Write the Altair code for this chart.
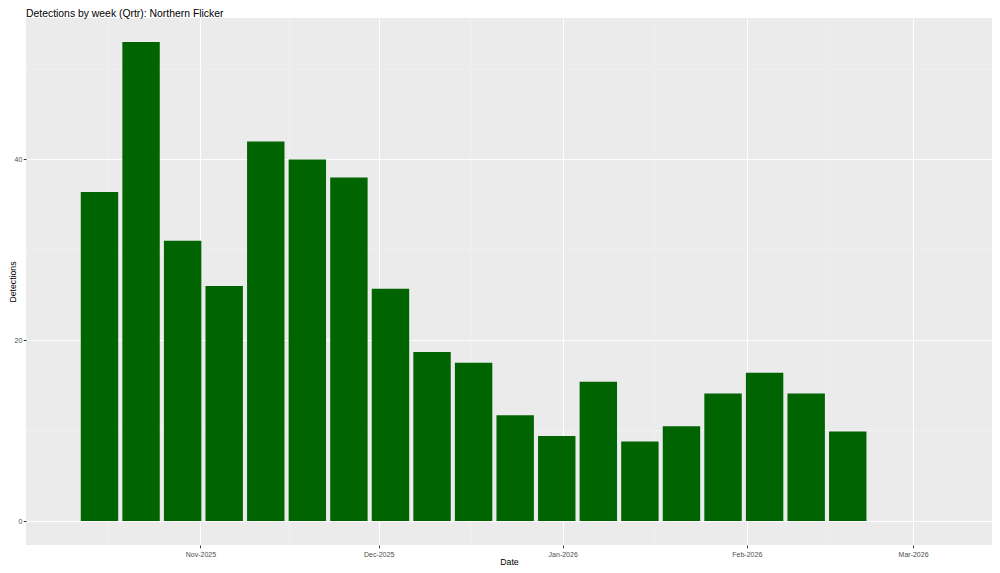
import altair as alt
import pandas as pd

# Week (centre date) of each bar
weeks = ["2025-10-15", "2025-10-22", "2025-10-29", "2025-11-05", "2025-11-12",
         "2025-11-19", "2025-11-26", "2025-12-03", "2025-12-10", "2025-12-17",
         "2025-12-24", "2025-12-31", "2026-01-07", "2026-01-14", "2026-01-21",
         "2026-01-28", "2026-02-04", "2026-02-11", "2026-02-18"]
detections = [36.4, 53, 31, 26, 42, 40, 38, 25.7, 18.7, 17.5,
              11.7, 9.4, 15.4, 8.8, 10.5, 14.1, 16.4, 14.1, 9.9]

month_breaks = ["2025-11-01", "2025-12-01", "2026-01-01", "2026-02-01", "2026-03-01"]
minor_x = ["2025-10-16T12:00:00Z", "2025-11-16T00:00:00Z", "2025-12-16T12:00:00Z",
           "2026-01-16T12:00:00Z", "2026-02-14T12:00:00Z"]
major_y = [0, 20, 40]
minor_y = [10, 30, 50]

FONT = "Liberation Sans"

bars_df = pd.DataFrame({"week": weeks, "Detections": detections})
mx_df = pd.DataFrame({"d": minor_x})
my_df = pd.DataFrame({"v": minor_y})

x_scale = alt.Scale(type="utc",
                    domain=[alt.DateTime(year=2025, month=10, date=2, hours=15, utc=True),
                            alt.DateTime(year=2026, month=3, date=14, hours=7, utc=True)])
y_scale = alt.Scale(domain=[-2.65, 55.65], nice=False, zero=False)

def dt(s):
    y, m, d = s.split("-")
    return alt.DateTime(year=int(y), month=int(m), date=int(d), utc=True)

x_axis = alt.Axis(title="Date", values=[dt(s) for s in month_breaks],
                  labelExpr="utcFormat(datum.value, '%b-%Y')",
                  labelFontSize=7, labelColor="#4D4D4D", labelFont=FONT,
                  titleFont=FONT, titleFontSize=8.7, titleFontWeight="normal", titleColor="black",
                  titleBaseline="alphabetic", titleY=19,
                  tickColor="#333333", tickSize=2.7, tickWidth=1, domain=False, grid=True,
                  gridColor="white", gridWidth=1.1, labelPadding=2.5)
y_axis = alt.Axis(title="Detections", values=major_y, labelFontSize=7, labelColor="#4D4D4D",
                  labelFont=FONT, titleFont=FONT, titleFontSize=8.7, titleFontWeight="normal",
                  titleColor="black", titleX=-11, titleBaseline="alphabetic",
                  tickColor="#333333", tickSize=2.7, tickWidth=1,
                  domain=False, grid=True, gridColor="white", gridWidth=1.1,
                  labelPadding=1.5)

minor_x_rules = alt.Chart(mx_df).mark_rule(color="#F5F5F5", strokeWidth=0.6).encode(
    x=alt.X("d:T", scale=x_scale, axis=x_axis)
)
minor_y_rules = alt.Chart(my_df).mark_rule(color="#F5F5F5", strokeWidth=0.6).encode(
    y=alt.Y("v:Q", scale=y_scale, axis=y_axis)
)

bars = alt.Chart(bars_df).transform_calculate(
    start="toDate(datum.week) - 3.15*86400000",
    end="toDate(datum.week) + 3.15*86400000",
).mark_bar(color="#006400").encode(
    x=alt.X("start:T", scale=x_scale, axis=x_axis),
    x2="end:T",
    y=alt.Y("Detections:Q", scale=y_scale, axis=y_axis),
    y2=alt.datum(0),
)

chart = alt.layer(minor_x_rules, minor_y_rules, bars).properties(
    width=966, height=527,
    autosize=alt.AutoSizeParams(type="none"),
    padding={"left": 18, "top": 10, "right": 0, "bottom": 20},
    title=alt.TitleParams("Detections by week (Qrtr): Northern Flicker", anchor="start",
                          frame="group", font=FONT, fontSize=10.4, fontWeight="normal",
                          color="black", offset=2, dy=3.5),
).configure_view(fill="#EBEBEB", strokeWidth=0)

chart.save("out.html", embed_options={"renderer": "svg", "actions": False})
